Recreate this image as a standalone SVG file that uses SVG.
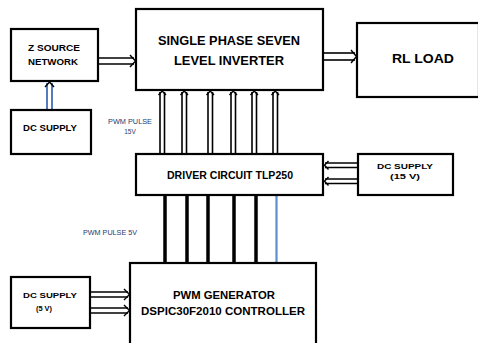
<svg xmlns="http://www.w3.org/2000/svg" width="478" height="343" viewBox="0 0 478 343">
<style>
.box{fill:#fff;stroke:#000;stroke-width:2.2}
.t{font-family:"Liberation Sans",Arial,sans-serif;font-weight:bold;fill:#000;text-anchor:middle}
.lbl{font-family:"Liberation Sans",Arial,sans-serif;fill:#1f3a70;text-anchor:middle;font-size:6.5px}
.dl{fill:none;stroke:#000;stroke-width:1.6}
.hd{fill:none;stroke:#000;stroke-width:1.4}
.sl{stroke:#000;stroke-width:3.5}
</style>
<rect width="478" height="343" fill="#fff"/>
<g id="connectors">
  <!-- DC supply to Z source (up) -->
  <line class="dl" x1="47" y1="110" x2="47" y2="83" style="stroke:#2a5bb0"/>
  <line class="dl" x1="52" y1="110" x2="52" y2="83" style="stroke:#2a5bb0"/>
  <path class="hd" d="M45 87 L49.5 82 L54 87"/>
  <!-- Z source to inverter -->
  <line class="dl" x1="98" y1="58" x2="134" y2="58"/>
  <line class="dl" x1="98" y1="64" x2="134" y2="64"/>
  <path class="hd" d="M130 55 L135.5 61 L130 67"/>
  <!-- inverter to RL load -->
  <line class="dl" x1="324" y1="53" x2="355" y2="53"/>
  <line class="dl" x1="324" y1="60" x2="355" y2="60"/>
  <path class="hd" d="M351 50 L356.5 56.5 L351 63"/>
  <!-- driver to inverter, 6 double arrows -->
  <g>
    <line class="dl" x1="160" y1="154" x2="160" y2="92"/><line class="dl" x1="164.5" y1="154" x2="164.5" y2="92"/><path class="hd" d="M158.5 95 L162.2 91 L166 95"/>
    <line class="dl" x1="182" y1="154" x2="182" y2="92"/><line class="dl" x1="186.5" y1="154" x2="186.5" y2="92"/><path class="hd" d="M180.5 95 L184.2 91 L188 95"/>
    <line class="dl" x1="208" y1="154" x2="208" y2="92"/><line class="dl" x1="212.5" y1="154" x2="212.5" y2="92"/><path class="hd" d="M206.5 95 L210.2 91 L214 95"/>
    <line class="dl" x1="231" y1="154" x2="231" y2="92"/><line class="dl" x1="235.5" y1="154" x2="235.5" y2="92"/><path class="hd" d="M229.5 95 L233.2 91 L237 95"/>
    <line class="dl" x1="252" y1="154" x2="252" y2="92"/><line class="dl" x1="256.5" y1="154" x2="256.5" y2="92"/><path class="hd" d="M250.5 95 L254.2 91 L258 95"/>
    <line class="dl" x1="273" y1="154" x2="273" y2="92"/><line class="dl" x1="277.5" y1="154" x2="277.5" y2="92"/><path class="hd" d="M271.5 95 L275.2 91 L279 95"/>
  </g>
  <!-- DC supply 15V to driver (left) -->
  <line class="dl" x1="358" y1="163" x2="325" y2="163"/>
  <line class="dl" x1="358" y1="167.5" x2="325" y2="167.5"/>
  <path class="hd" d="M328.5 161 L324.5 165.2 L328.5 169.5"/>
  <line class="dl" x1="358" y1="179" x2="325" y2="179"/>
  <line class="dl" x1="358" y1="183.5" x2="325" y2="183.5"/>
  <path class="hd" d="M328.5 177 L324.5 181.2 L328.5 185.5"/>
  <!-- PWM generator to driver, single lines -->
  <line class="sl" x1="165" y1="263" x2="165" y2="196"/>
  <line class="sl" x1="187" y1="263" x2="187" y2="196"/>
  <line class="sl" x1="208" y1="263" x2="208" y2="196"/>
  <line class="sl" x1="234" y1="263" x2="234" y2="196"/>
  <line class="sl" x1="256" y1="263" x2="256" y2="196"/>
  <line x1="276.5" y1="263" x2="276.5" y2="196" stroke="#5a8fd0" stroke-width="2.2"/>
  <!-- DC supply 5V to PWM generator -->
  <line class="dl" x1="90" y1="292" x2="128" y2="292"/>
  <line class="dl" x1="90" y1="297" x2="128" y2="297"/>
  <path class="hd" d="M124 289 L129.5 294.5 L124 300"/>
  <line class="dl" x1="90" y1="308" x2="128" y2="308"/>
  <line class="dl" x1="90" y1="313" x2="128" y2="313"/>
  <path class="hd" d="M124 305 L129.5 310.5 L124 316"/>
</g>
<g id="zsource">
  <rect class="box" x="11" y="29" width="87" height="52"/>
  <text class="t" x="54" y="51" font-size="9" textLength="52" lengthAdjust="spacingAndGlyphs">Z SOURCE</text>
  <text class="t" x="53" y="65" font-size="9" textLength="50" lengthAdjust="spacingAndGlyphs">NETWORK</text>
</g>
<g id="dcsupply1">
  <rect class="box" x="11" y="110" width="80" height="44"/>
  <text class="t" x="50" y="131" font-size="9" textLength="54" lengthAdjust="spacingAndGlyphs">DC SUPPLY</text>
</g>
<g id="inverter">
  <rect class="box" x="136" y="9" width="187" height="81"/>
  <text class="t" x="229" y="45" font-size="12" textLength="142" lengthAdjust="spacingAndGlyphs">SINGLE PHASE SEVEN</text>
  <text class="t" x="229" y="65" font-size="12" textLength="110" lengthAdjust="spacingAndGlyphs">LEVEL INVERTER</text>
</g>
<g id="rlload">
  <rect class="box" x="357" y="23" width="122" height="74"/>
  <text class="t" x="423" y="63" font-size="13" textLength="62" lengthAdjust="spacingAndGlyphs">RL LOAD</text>
</g>
<g id="label15">
  <text class="lbl" x="130" y="124" textLength="44" lengthAdjust="spacingAndGlyphs">PWM PULSE</text>
  <text class="lbl" x="130" y="134">15V</text>
</g>
<g id="driver">
  <rect class="box" x="136" y="154" width="187" height="41"/>
  <text class="t" x="230" y="179" font-size="10" textLength="126" lengthAdjust="spacingAndGlyphs">DRIVER CIRCUIT TLP250</text>
</g>
<g id="dcsupply15">
  <rect class="box" x="358" y="154" width="95" height="41"/>
  <text class="t" x="405" y="169" font-size="8" textLength="56" lengthAdjust="spacingAndGlyphs">DC SUPPLY</text>
  <text class="t" x="405" y="179" font-size="8" textLength="30" lengthAdjust="spacingAndGlyphs">(15 V)</text>
</g>
<g id="label5">
  <text class="lbl" x="110" y="235" textLength="54" lengthAdjust="spacingAndGlyphs">PWM PULSE 5V</text>
</g>
<g id="dcsupply5">
  <rect class="box" x="11" y="277" width="79" height="51"/>
  <text class="t" x="50" y="298" font-size="8" textLength="54" lengthAdjust="spacingAndGlyphs">DC SUPPLY</text>
  <text class="t" x="44" y="311" font-size="8" textLength="16" lengthAdjust="spacingAndGlyphs">(5 V)</text>
</g>
<g id="pwmgen">
  <rect class="box" x="130" y="263" width="186" height="82"/>
  <text class="t" x="224" y="299" font-size="10" textLength="102" lengthAdjust="spacingAndGlyphs">PWM GENERATOR</text>
  <text class="t" x="223" y="315" font-size="10" textLength="164" lengthAdjust="spacingAndGlyphs">DSPIC30F2010 CONTROLLER</text>
</g>
</svg>
